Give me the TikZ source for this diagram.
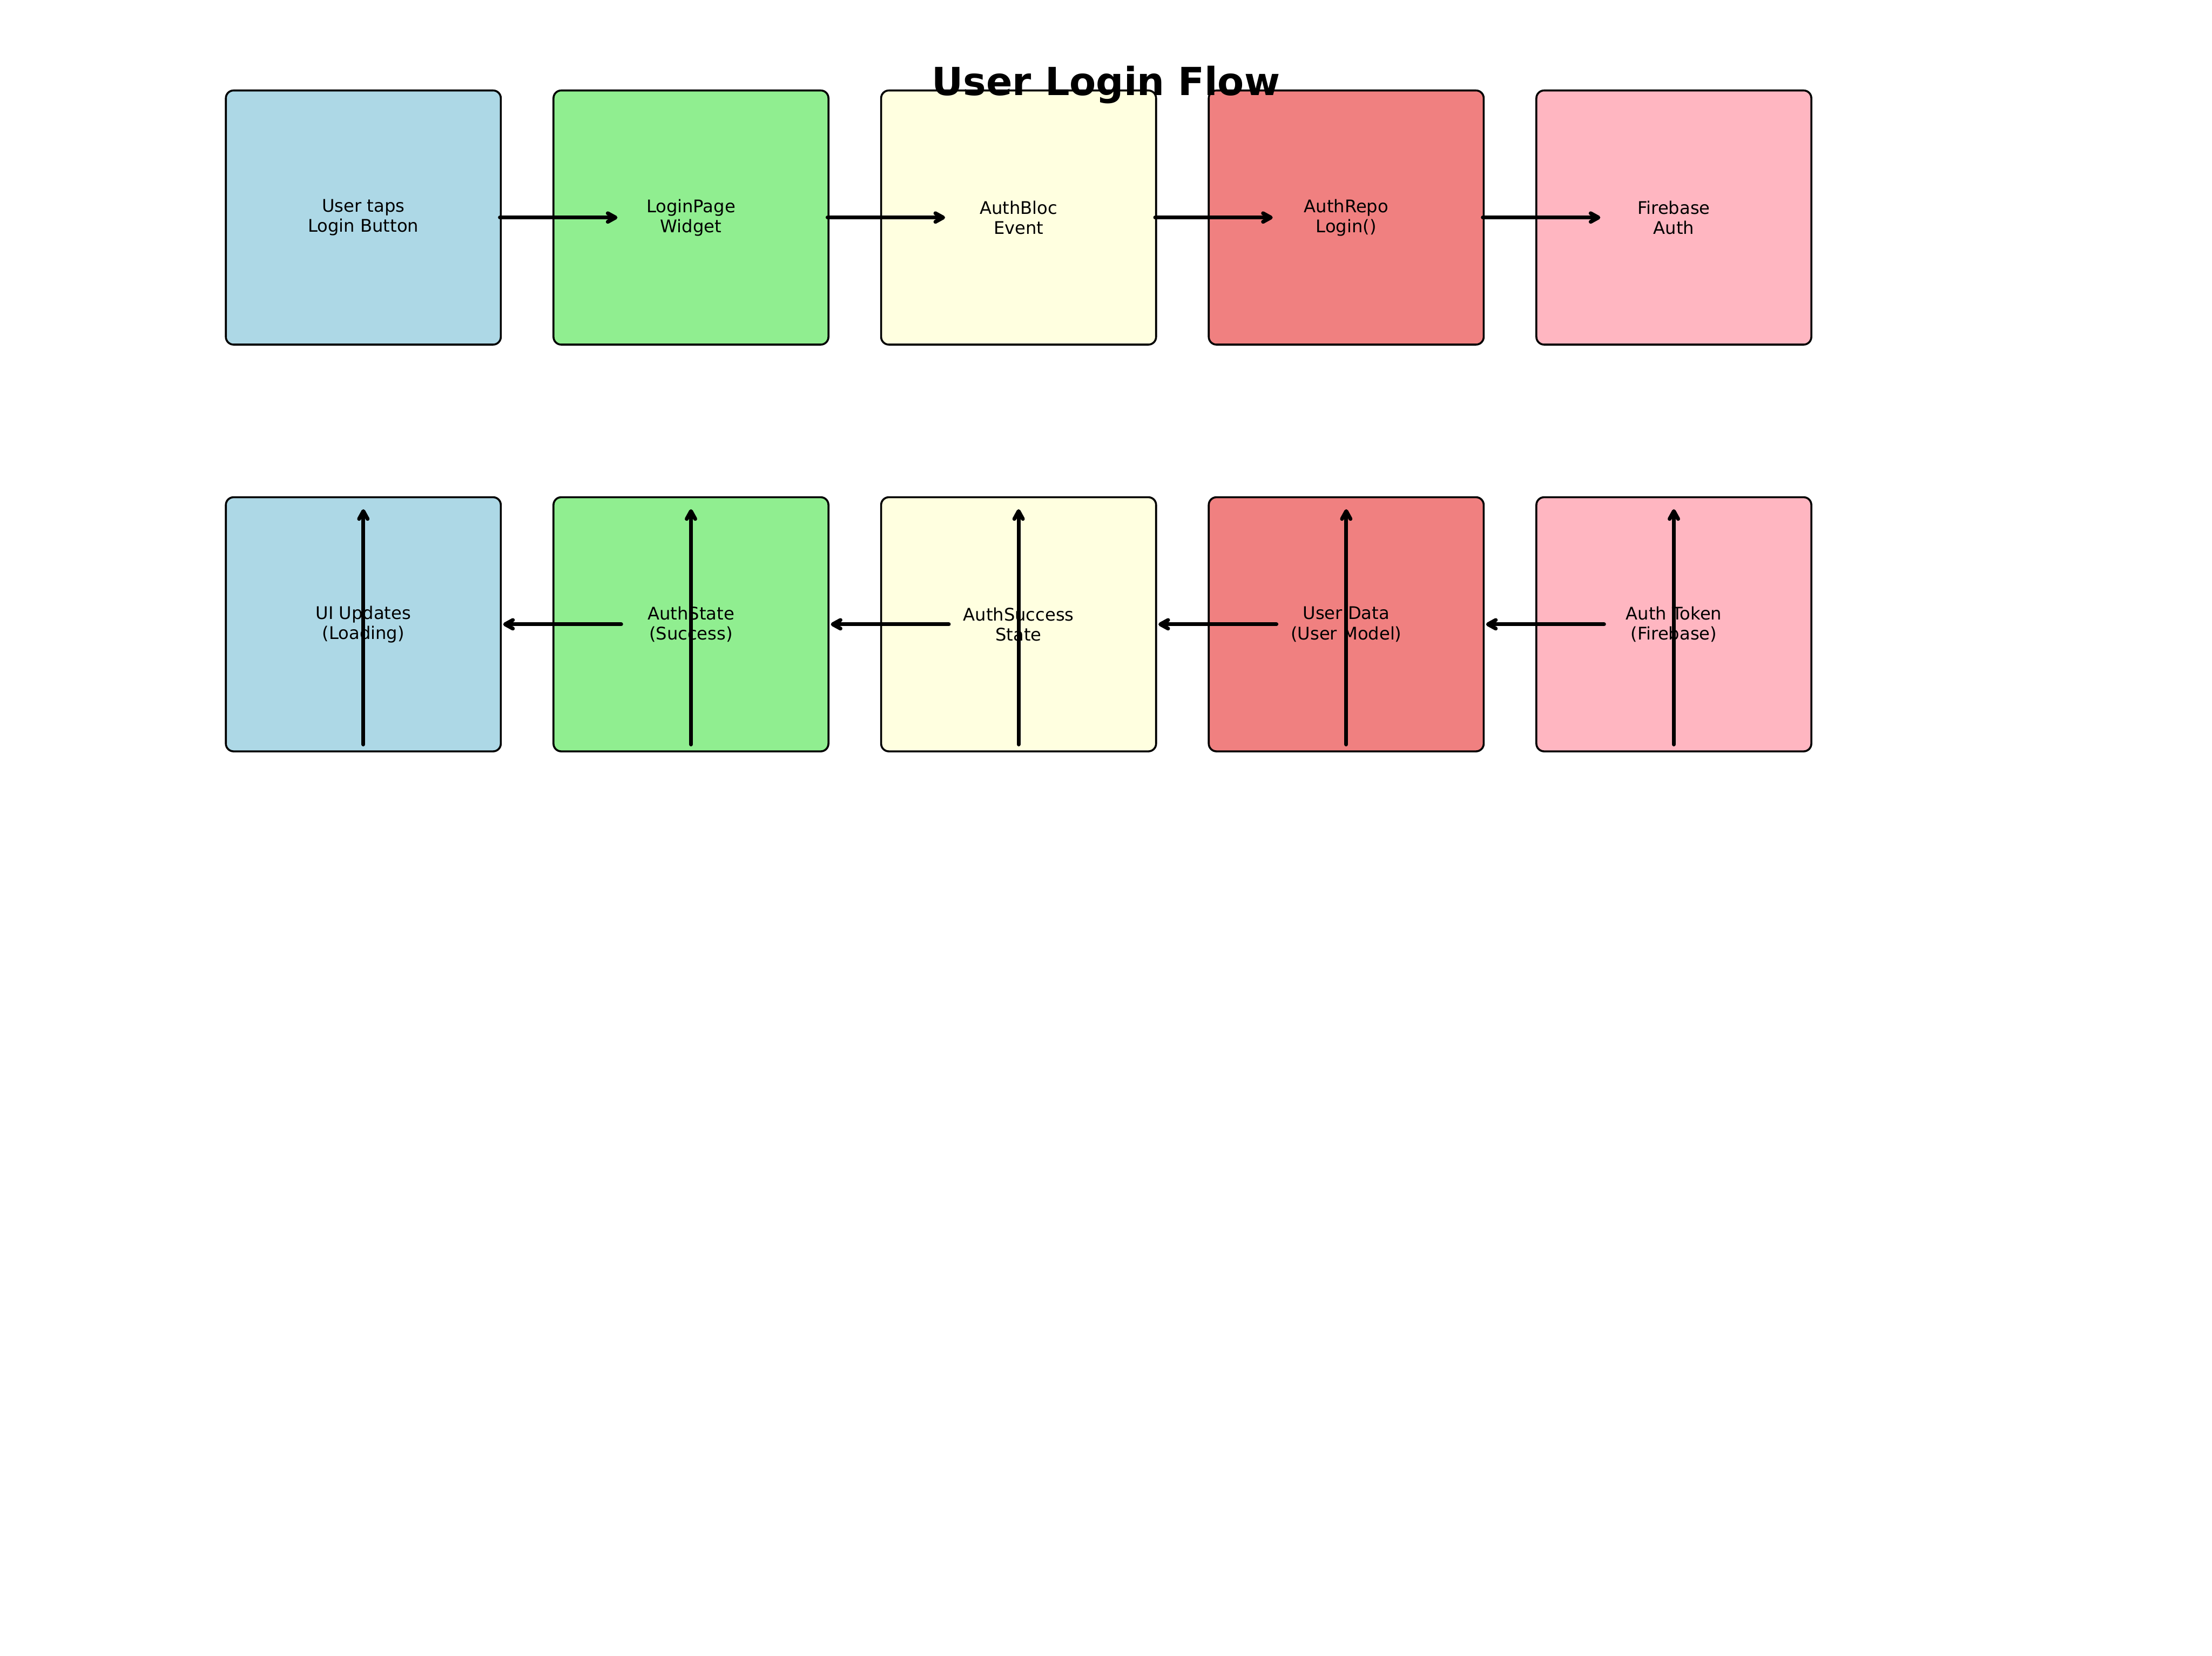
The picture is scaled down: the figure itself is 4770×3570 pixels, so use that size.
\documentclass[tikz,border=0pt]{standalone}
\usepackage{fontspec}
\setmainfont{DejaVu Sans}
\usetikzlibrary{arrows.meta,calc}
\definecolor{cblue}{HTML}{ADD8E6}
\definecolor{cgreen}{HTML}{90EE90}
\definecolor{cyellow}{HTML}{FFFFE0}
\definecolor{ccoral}{HTML}{F08080}
\definecolor{cpink}{HTML}{FFB6C1}
\tikzset{
  flowbox/.style={draw=black, line width=1bp, rounded corners=4bp,
    minimum width=142.3bp, minimum height=131.5bp, inner sep=0pt,
    align=center, font=\fontsize{9bp}{10.4bp}\selectfont},
  arr/.style={-{Straight Barb[length=4bp,width=4.4bp,round]}, line width=2bp, line cap=round},
}
\begin{document}
\begin{tikzpicture}[x=0.24bp, y=-0.24bp]
\useasboundingbox (0,0) rectangle (4770,3570);
\fill[white] (0,0) rectangle (4770,3570);
% top row
\node[flowbox, fill=cblue]   (t1) at (783.5,469) {User taps\\Login Button};
\node[flowbox, fill=cgreen]  (t2) at (1490,469)  {LoginPage\\Widget};
\node[flowbox, fill=cyellow] (t3) at (2196.5,469) {AuthBloc\\Event};
\node[flowbox, fill=ccoral]  (t4) at (2903,469)  {AuthRepo\\Login()};
\node[flowbox, fill=cpink]   (t5) at (3609.5,469) {Firebase\\Auth};
% bottom row
\node[flowbox, fill=cblue]   (b1) at (783.5,1346) {UI Updates\\(Loading)};
\node[flowbox, fill=cgreen]  (b2) at (1490,1346)  {AuthState\\(Success)};
\node[flowbox, fill=cyellow] (b3) at (2196.5,1346) {AuthSuccess\\State};
\node[flowbox, fill=ccoral]  (b4) at (2903,1346)  {User Data\\(User Model)};
\node[flowbox, fill=cpink]   (b5) at (3609.5,1346) {Auth Token\\(Firebase)};
% top arrows
\draw[arr] ($(t1.east)+(-4,0)$) -- ($(t2.west)+(140,0)$);
\draw[arr] ($(t2.east)+(-4,0)$) -- ($(t3.west)+(140,0)$);
\draw[arr] ($(t3.east)+(-4,0)$) -- ($(t4.west)+(140,0)$);
\draw[arr] ($(t4.east)+(-4,0)$) -- ($(t5.west)+(140,0)$);
% bottom arrows
\draw[arr] ($(b2.west)+(148,0)$) -- ($(b1.east)+(3,0)$);
\draw[arr] ($(b3.west)+(148,0)$) -- ($(b2.east)+(3,0)$);
\draw[arr] ($(b4.west)+(148,0)$) -- ($(b3.east)+(3,0)$);
\draw[arr] ($(b5.west)+(148,0)$) -- ($(b4.east)+(3,0)$);
% vertical arrows
\foreach \n in {b1,b2,b3,b4,b5}{
  \draw[arr] ($(\n.south)+(0,-17)$) -- ($(\n.north)+(0,28)$);
}
% title
\node[font=\fontsize{20bp}{24bp}\selectfont\bfseries, anchor=base, inner sep=0pt] (title) at (2385,206) {User Login Flow};
\end{tikzpicture}
\end{document}
